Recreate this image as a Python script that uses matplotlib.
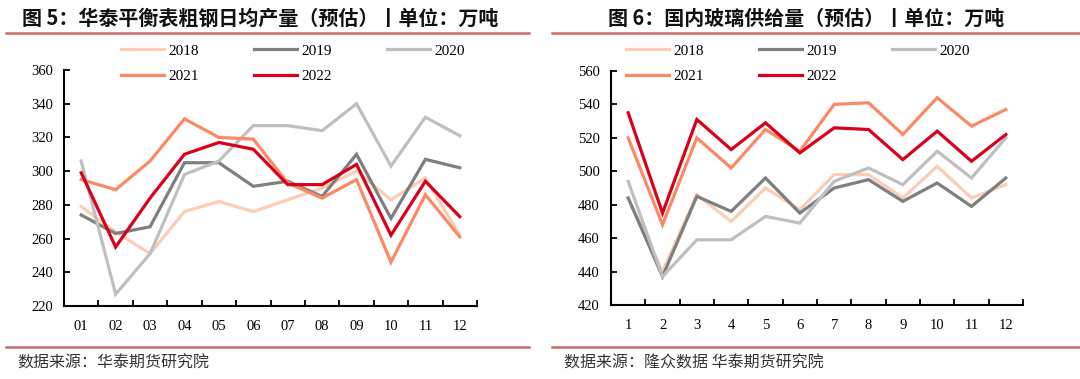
import matplotlib
matplotlib.use('Agg')
import matplotlib.pyplot as plt
from matplotlib.lines import Line2D

plt.rcParams['font.family'] = ['Noto Sans CJK SC', 'DejaVu Sans']

# Input data:
years = ['2018', '2019', '2020', '2021', '2022']
colors = ['#FCCDB6', '#7F7F7F', '#BFBFBF', '#FB8A64', '#D9001B']

steel_months = ['01', '02', '03', '04', '05', '06', '07', '08', '09', '10', '11', '12']
steel_2018 = [279, 264, 251, 276, 282, 276, 283, 290, 300, 283, 296, 262]
steel_2019 = [274, 263, 267, 305, 305, 291, 294, 285, 310, 272, 307, 302]
steel_2020 = [306, 227, 251, 298, 306, 327, 327, 324, 340, 303, 332, 321]
steel_2021 = [295, 289, 306, 331, 320, 319, 293, 284, 295, 246, 286, 261]
steel_2022 = [299, 255, 284, 310, 317, 313, 292, 292, 304, 262, 294, 273]

glass_months = ['1', '2', '3', '4', '5', '6', '7', '8', '9', '10', '11', '12']
glass_2018 = [484, 440, 486, 470, 490, 477, 498, 498, 484, 503, 484, 492]
glass_2019 = [484, 437, 485, 476, 496, 475, 490, 495, 482, 493, 479, 496]
glass_2020 = [494, 437, 459, 459, 473, 469, 494, 502, 492, 512, 496, 520]
glass_2021 = [520, 468, 520, 502, 525, 512, 540, 541, 522, 544, 527, 537]
glass_2022 = [535, 475, 531, 513, 529, 511, 526, 525, 507, 524, 506, 522]

W, H = 1080, 379
fig = plt.figure(figsize=(W / 100, H / 100), dpi=100)


def px_axes(l, t, r, b):
	return fig.add_axes([l / W, 1 - b / H, (r - l) / W, (b - t) / H])


def draw_panel(ax, months, series, ymin, ymax, leg_x):
	x = list(range(len(months)))
	handles = []
	for s, c in zip(series, colors):
		ln, = ax.plot(x, s, color=c, lw=2.3, solid_joinstyle='miter')
		handles.append(ln)
	ax.set_xlim(-0.5, len(months) - 0.5)
	ax.set_ylim(ymin, ymax)
	ax.set_yticks(range(ymin, ymax + 1, 20))
	ax.set_xticks([i + 0.5 for i in x])
	ax.set_xticklabels([])
	ax.set_xticks(x, minor=True)
	ax.set_xticklabels(months, minor=True)
	ax.tick_params(axis='x', which='minor', length=0, pad=10)
	ax.tick_params(axis='both', which='major', direction='in', length=4, width=1.3)
	for lab in ax.get_xticklabels(minor=True) + ax.get_yticklabels():
		lab.set_family('Liberation Serif')
		lab.set_fontsize(10.5)
	ax.tick_params(axis='y', pad=8)
	for sp in ['top', 'right']:
		ax.spines[sp].set_visible(False)
	for sp in ['left', 'bottom']:
		ax.spines[sp].set_linewidth(1.5)
	# legend fills by column, so reorder to get rows 2018-2020 / 2021-2022
	order = [0, 3, 1, 4, 2]
	fig.legend([handles[i] for i in order], [years[i] for i in order], loc='upper left',
		bbox_to_anchor=(leg_x / W, 1 - 44 / H),
		ncol=3, frameon=False, prop={'family': 'Liberation Serif', 'size': 11},
		handlelength=2.8, handletextpad=0.3, columnspacing=3.6, labelspacing=0.75,
		borderpad=0, borderaxespad=0)


ax1 = px_axes(64, 70, 477, 306)
draw_panel(ax1, steel_months, [steel_2018, steel_2019, steel_2020, steel_2021, steel_2022], 220, 360, 121)
ax2 = px_axes(611, 71, 1023, 305)
draw_panel(ax2, glass_months, [glass_2018, glass_2019, glass_2020, glass_2021, glass_2022], 420, 560, 626)

# titles, separators, sources
sep = '#C96A6A'
for x0, x1 in [(6, 529), (552, 1080)]:
	for y in [33, 347]:
		fig.add_artist(Line2D([x0 / W, x1 / W], [1 - y / H, 1 - y / H], color=sep, lw=1.8))

fig.text(22 / W, 1 - 18 / H, '图 5：华泰平衡表粗钢日均产量（预估）丨单位：万吨',
	fontsize=14.4, fontweight='bold', va='center', ha='left', color='#111111')
fig.text(608 / W, 1 - 18 / H, '图 6：国内玻璃供给量（预估）丨单位：万吨',
	fontsize=14.4, fontweight='bold', va='center', ha='left', color='#111111')
fig.text(17 / W, 1 - 363 / H, '数据来源：华泰期货研究院', fontsize=11.5, va='center', color='#333333')
fig.text(564 / W, 1 - 363 / H, '数据来源：隆众数据 华泰期货研究院', fontsize=11.5, va='center', color='#333333')

fig.savefig('out.png', dpi=100)
